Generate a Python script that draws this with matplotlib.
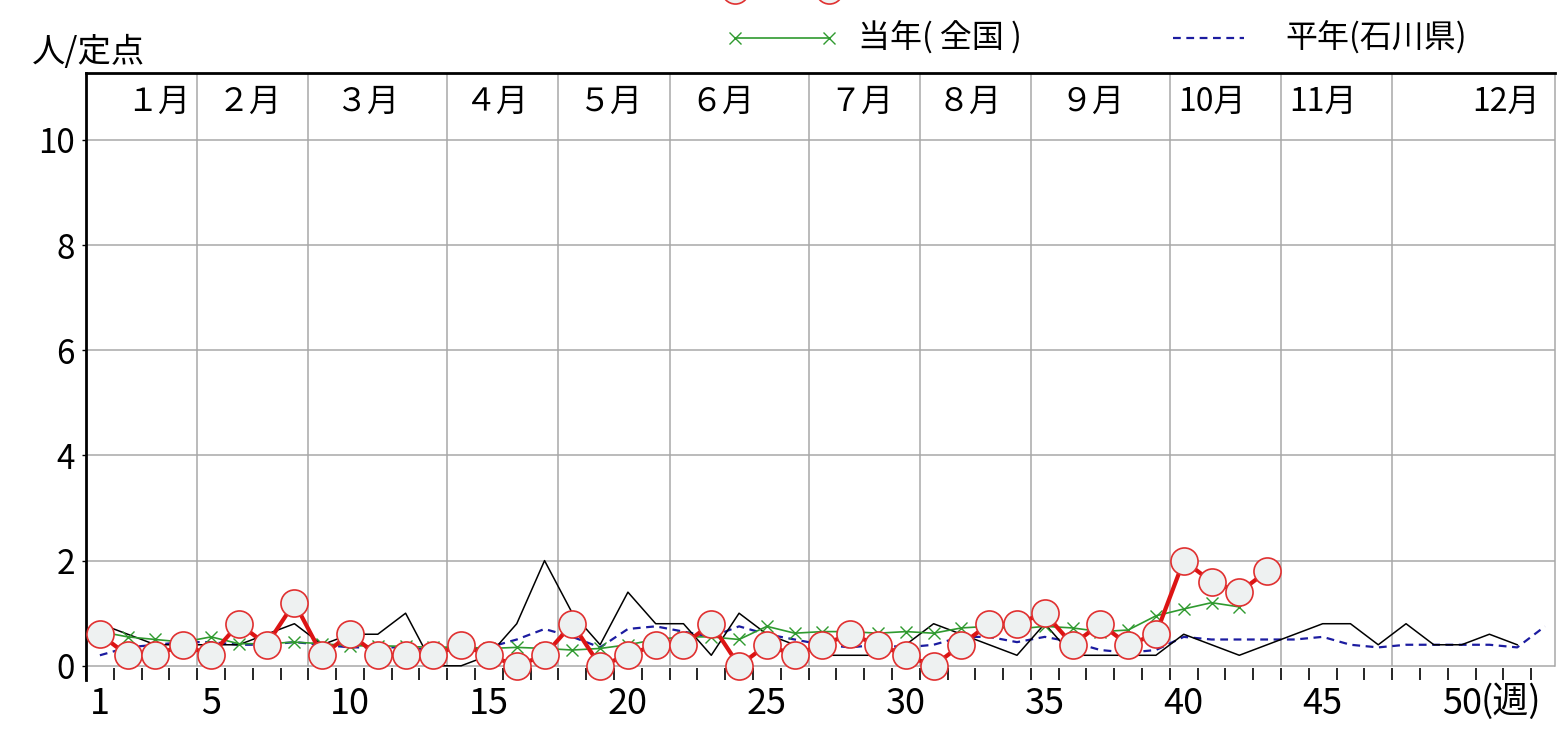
import numpy as np
import matplotlib
matplotlib.use('Agg')
import matplotlib.pyplot as plt
from matplotlib.lines import Line2D

plt.rcParams['font.family'] = ['Noto Sans CJK JP', 'DejaVu Sans']

# weekly reports per sentinel (人/定点)
weeks = np.arange(1, 54)

ishikawa_this_year = [0.6, 0.2, 0.2, 0.4, 0.2, 0.8, 0.4, 1.2, 0.2, 0.6,
                      0.2, 0.2, 0.2, 0.4, 0.2, 0.0, 0.2, 0.8, 0.0, 0.2,
                      0.4, 0.4, 0.8, 0.0, 0.4, 0.2, 0.4, 0.6, 0.4, 0.2,
                      0.0, 0.4, 0.8, 0.8, 1.0, 0.4, 0.8, 0.4, 0.6, 2.0,
                      1.6, 1.4, 1.8]

ishikawa_last_year = [0.8, 0.6, 0.4, 0.4, 0.4, 0.4, 0.6, 0.8, 0.4, 0.6,
                      0.6, 1.0, 0.0, 0.0, 0.2, 0.8, 2.0, 1.0, 0.4, 1.4,
                      0.8, 0.8, 0.2, 1.0, 0.6, 0.4, 0.2, 0.2, 0.2, 0.4,
                      0.8, 0.6, 0.4, 0.2, 0.8, 0.2, 0.2, 0.2, 0.2, 0.6,
                      0.4, 0.2, 0.4, 0.6, 0.8, 0.8, 0.4, 0.8, 0.4, 0.4,
                      0.6, 0.4]

national_this_year = [0.65, 0.55, 0.5, 0.45, 0.55, 0.42, 0.42, 0.45, 0.42, 0.38,
                      0.38, 0.37, 0.35, 0.36, 0.33, 0.35, 0.33, 0.3, 0.33, 0.4,
                      0.5, 0.55, 0.55, 0.5, 0.75, 0.62, 0.65, 0.65, 0.62, 0.65,
                      0.62, 0.72, 0.75, 0.7, 0.75, 0.72, 0.65, 0.68, 0.95, 1.08,
                      1.2, 1.12]

ishikawa_normal = [0.2, 0.35, 0.4, 0.45, 0.45, 0.4, 0.4, 0.45, 0.4, 0.35,
                   0.35, 0.35, 0.3, 0.3, 0.35, 0.5, 0.7, 0.55, 0.35, 0.7,
                   0.75, 0.65, 0.55, 0.75, 0.6, 0.5, 0.4, 0.35, 0.4, 0.35,
                   0.4, 0.55, 0.55, 0.45, 0.55, 0.45, 0.3, 0.25, 0.3, 0.55,
                   0.5, 0.5, 0.5, 0.5, 0.55, 0.4, 0.35, 0.4, 0.4, 0.4,
                   0.4, 0.35, 0.75]

month_names = ['１月', '２月', '３月', '４月', '５月', '６月',
               '７月', '８月', '９月', '10月', '11月', '12月']
weeks_per_month = [4, 4, 5, 4, 4, 5, 4, 4, 5, 4, 4, 5]
week_labels = [1, 5, 10, 15, 20, 25, 30, 35, 40, 45, 50]
y_levels = [0, 2, 4, 6, 8, 10]

# where each month name sits along the week axis
month_label_x = [3.1, 6.4, 10.6, 15.3, 19.4, 23.4, 28.4, 32.3, 36.7, 41.0, 45.0, 51.6]

X_MIN, X_MAX = 0.5, 53.36
Y_MIN, Y_MAX = -0.27, 11.27
GRID = '#a8a8a8'

RED_LINE = dict(color='#dc1414', lw=3.0)
RED_MARK = dict(marker='o', ms=19.5, mfc='#eef1f1', mec='#e03030', mew=1.2)
GREEN = dict(color='#2f9a2f', lw=1.2, marker='x', ms=8, mew=1.0)
BLACK = dict(color='black', lw=1.1)
BLUE = dict(color='#1c1ca0', lw=1.6, linestyle=(0, (3.5, 2.5)))

fig = plt.figure(figsize=(15.58, 7.32), dpi=100)
ax = fig.add_axes([86 / 1558, 52 / 732, (1555 - 86) / 1558, (680 - 73) / 732])
ax.set_xlim(X_MIN, X_MAX)
ax.set_ylim(Y_MIN, Y_MAX)

# grid: horizontal levels and month boundaries
ax.hlines(y_levels, X_MIN, X_MAX, color=GRID, lw=1.1, zorder=1)
month_edges = np.cumsum(weeks_per_month)[:-1] + 0.5
ax.vlines(month_edges, 0, Y_MAX, color=GRID, lw=1.1, zorder=1)

for name, xpos in zip(month_names, month_label_x):
    ax.text(xpos, 10.72, name, ha='center', va='center', fontsize=23)

# series
ax.plot(weeks[:len(ishikawa_normal)], ishikawa_normal, zorder=3, **BLUE)
ax.plot(weeks[:len(ishikawa_last_year)], ishikawa_last_year, zorder=4, **BLACK)
ax.plot(weeks[:len(national_this_year)], national_this_year, zorder=5, **GREEN)
ax.plot(weeks[:len(ishikawa_this_year)], ishikawa_this_year, zorder=6, **RED_LINE)
ax.plot(weeks[:len(ishikawa_this_year)], ishikawa_this_year, linestyle='none',
        zorder=7, clip_on=False, **RED_MARK)

# spines
ax.spines['bottom'].set_visible(False)
ax.spines['left'].set_linewidth(2.0)
ax.spines['top'].set_linewidth(2.0)
ax.spines['right'].set_color(GRID)
ax.spines['right'].set_linewidth(1.1)
ax.spines['right'].set_bounds(0, Y_MAX)

ax.set_yticks(y_levels)
ax.set_yticklabels([str(v) for v in y_levels], fontsize=24)
ax.tick_params(axis='y', length=3, width=1, pad=5)

ax.set_xticks(week_labels)
ax.set_xticklabels([str(w) for w in week_labels], fontsize=26)
ax.set_xticks(np.arange(0.5, 53, 1.0), minor=True)
ax.tick_params(axis='x', which='major', length=0, pad=4)
ax.tick_params(axis='x', which='minor', direction='in', length=8.6, width=1.2)
ax.annotate('(週)', xy=(50, 0), xycoords=('data', 'axes fraction'),
            xytext=(14, -2.5), textcoords='offset points',
            ha='left', va='top', fontsize=26)

# header: unit label and legend, laid out in pixel coordinates
lax = fig.add_axes([0, 0, 1, 1], zorder=-1)
lax.set_xlim(0, 1558)
lax.set_ylim(732, 0)
lax.axis('off')

lax.text(32, 53, '人/定点', ha='left', va='center', fontsize=24)

# first legend row sits mostly above the top edge; only its markers peek in
lax.add_line(Line2D([735, 829], [-10, -10], **RED_LINE, **RED_MARK))

lax.add_line(Line2D([735, 829], [38, 38], **GREEN))
lax.text(858, 38, '当年( 全国 )', ha='left', va='center', fontsize=23)
lax.add_line(Line2D([1173, 1244], [38, 38], **BLUE))
lax.text(1285, 38, '平年(石川県)', ha='left', va='center', fontsize=23)

fig.savefig('out.png', dpi=100)
